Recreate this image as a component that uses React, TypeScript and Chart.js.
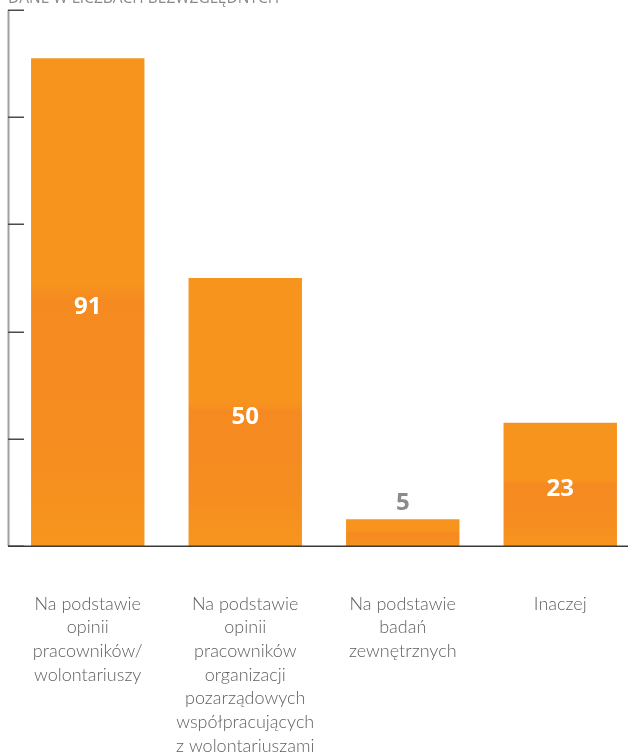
import React, { useEffect, useRef } from 'react';
import { Chart, registerables } from 'chart.js';

Chart.register(...registerables);

const headerText = 'DANE W LICZBACH BEZWZGLĘDNYCH';
const categories: string[][] = [
  ['Na podstawie', 'opinii', 'pracowników/', 'wolontariuszy'],
  ['Na podstawie', 'opinii', 'pracowników', 'organizacji', 'pozarządowych', 'współpracujących', 'z wolontariuszami'],
  ['Na podstawie', 'badań', 'zewnętrznych'],
  ['Inaczej'],
];
const values = [91, 50, 5, 23];
const yTicks = [0, 20, 40, 60, 80, 100];

const CANVAS_W = 650;
const CANVAS_H = 762;
const PLOT_BOTTOM = 546;

export default function App() {
  const ref = useRef<HTMLCanvasElement | null>(null);

  useEffect(() => {
    if (!ref.current) return;

    const decor = {
      id: 'decor',
      afterDraw(chart: any) {
        const ctx = chart.ctx;
        const area = chart.chartArea;
        const y = chart.scales.y;
        ctx.save();
        // header (cut off at top)
        ctx.fillStyle = '#8a8a8a';
        ctx.font = '15.5px "Open Sans", sans-serif';
        ctx.textAlign = 'left';
        ctx.textBaseline = 'alphabetic';
        ctx.fillText(headerText, 8, 3);

        // y axis line
        const y0 = y.getPixelForValue(0);
        const yTop = y.getPixelForValue(yTicks[yTicks.length - 1]);
        ctx.strokeStyle = '#a0a0a0';
        ctx.lineWidth = 2;
        ctx.beginPath();
        ctx.moveTo(area.left - 0.5, yTop);
        ctx.lineTo(area.left - 0.5, y0);
        ctx.stroke();

        // y ticks (inside)
        ctx.strokeStyle = '#4a4a4a';
        ctx.lineWidth = 1.5;
        yTicks.forEach((t) => {
          const py = Math.round(y.getPixelForValue(t)) + 0.25;
          ctx.beginPath();
          ctx.moveTo(area.left - 1, py);
          ctx.lineTo(area.left + 15, py);
          ctx.stroke();
        });

        // x axis baseline
        ctx.strokeStyle = '#3a3a3a';
        ctx.lineWidth = 1.5;
        ctx.beginPath();
        ctx.moveTo(area.left - 1, y0 + 0.25);
        ctx.lineTo(area.right, y0 + 0.25);
        ctx.stroke();

        // value labels
        const meta = chart.getDatasetMeta(0);
        ctx.textAlign = 'center';
        ctx.textBaseline = 'middle';
        ctx.font = 'bold 24px "Open Sans", sans-serif';
        meta.data.forEach((el: any, i: number) => {
          const v = values[i];
          if (v < 10) {
            ctx.fillStyle = '#8b8b8e';
            ctx.fillText(String(v), el.x, el.y - 16);
          } else {
            ctx.fillStyle = '#ffffff';
            ctx.fillText(String(v), el.x, (el.y + el.base) / 2 + 5);
          }
        });
        ctx.restore();
      },
    };

    const chart = new Chart(ref.current, {
      type: 'bar',
      data: {
        labels: categories,
        datasets: [
          {
            data: values,
            backgroundColor: (c: any) => {
              const chart = c.chart;
              const ys = chart.scales && chart.scales.y;
              if (!ys || c.dataIndex === undefined) return '#F7941E';
              const top = ys.getPixelForValue(values[c.dataIndex]);
              const bottom = ys.getPixelForValue(0);
              if (!isFinite(top) || !isFinite(bottom) || bottom - top < 1) return '#F7941E';
              const g = chart.ctx.createLinearGradient(0, top, 0, bottom);
              g.addColorStop(0, '#F7941E');
              g.addColorStop(0.46, '#F7941E');
              g.addColorStop(0.5, '#F58A21');
              g.addColorStop(0.8, '#F58D20');
              g.addColorStop(1, '#F7951E');
              return g;
            },
            borderWidth: 0,
            barPercentage: 0.72,
            categoryPercentage: 1,
          },
        ],
      },
      options: {
        animation: false,
        responsive: false,
        devicePixelRatio: 1,
        layout: { padding: { left: 9, right: CANVAS_W - 639, top: 10, bottom: 0 } },
        plugins: {
          legend: { display: false },
          title: { display: false },
          tooltip: { enabled: false },
        },
        scales: {
          y: {
            display: false,
            min: 0,
            max: 100,
          },
          x: {
            grid: { display: false, drawTicks: false },
            border: { display: false },
            afterFit: (scale: any) => {
              scale.height = CANVAS_H - PLOT_BOTTOM;
              scale.paddingLeft = 0;
              scale.paddingRight = 0;
            },
            ticks: {
              autoSkip: false,
              maxRotation: 0,
              minRotation: 0,
              padding: 46,
              color: '#5f6062',
              font: { family: 'Lato, sans-serif', size: 18, weight: '300', lineHeight: 1.317 },
            },
          },
        },
      },
      plugins: [decor],
    });

    return () => chart.destroy();
  }, []);

  return (
    <div
      style={{
        position: 'absolute',
        left: 0,
        top: 0,
        width: 628,
        height: 756,
        overflow: 'hidden',
        background: '#ffffff',
      }}
    >
      <canvas
        ref={ref}
        width={CANVAS_W}
        height={CANVAS_H}
        style={{ display: 'block', width: CANVAS_W, height: CANVAS_H }}
      />
    </div>
  );
}
